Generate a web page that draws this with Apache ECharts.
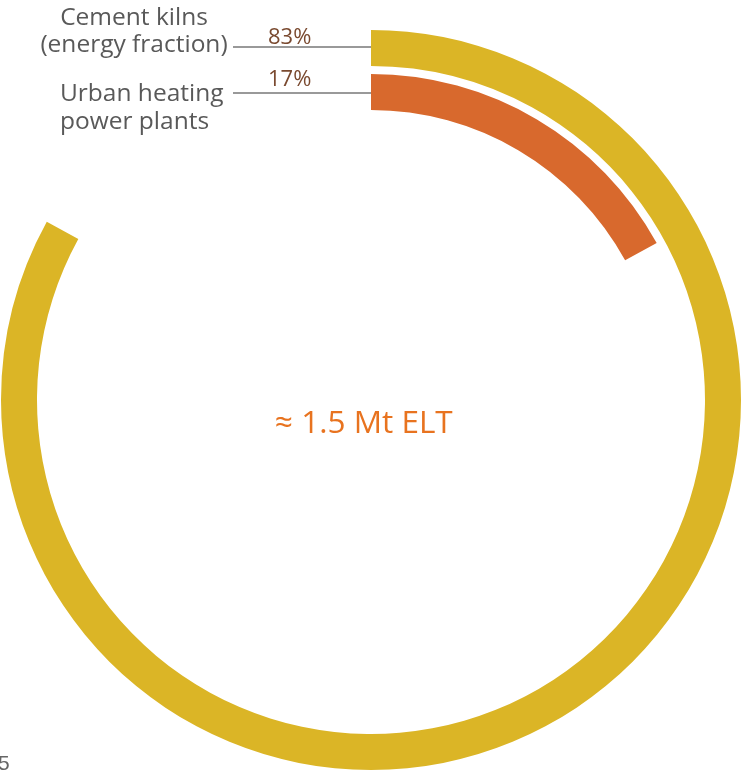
<!DOCTYPE html>
<html>
<head>
<meta charset="utf-8">
<script src="https://cdn.jsdelivr.net/npm/echarts@6/dist/echarts.min.js"></script>
<style>
  html, body { margin: 0; padding: 0; background: #fff; }
  #chart { width: 743px; height: 771px; }
</style>
</head>
<body>
<div id="chart"></div>
<script>
// inner ring first, outer ring second
const categories = ['Urban heating power plants', 'Cement kilns (energy fraction)'];
const shares = [17, 83];
const colors = ['#d8692d', '#dbb526'];
const pctLabels = ['17%', '83%'];
const centerText = '≈ 1.5 Mt ELT';

const chart = echarts.init(document.getElementById('chart'));

const labelFont = '"Open Sans", sans-serif';

chart.setOption({
  backgroundColor: '#fff',
  animation: false,
  polar: {
    center: [371, 400],
    radius: [286, 374],
  },
  angleAxis: {
    type: 'value',
    min: 0,
    max: 100,
    startAngle: 90,
    clockwise: true,
    show: false,
  },
  radiusAxis: {
    type: 'category',
    data: categories,
    show: false,
  },
  series: [
    {
      type: 'bar',
      coordinateSystem: 'polar',
      barWidth: 36,
      data: shares.map((v, i) => ({
        value: v,
        itemStyle: { color: colors[i] },
      })),
    },
  ],
  graphic: [
    // leader lines
    { type: 'line', shape: { x1: 233, y1: 47, x2: 372, y2: 47 }, style: { stroke: '#777', lineWidth: 1.5 } },
    { type: 'line', shape: { x1: 233, y1: 93, x2: 372, y2: 93 }, style: { stroke: '#777', lineWidth: 1.5 } },
    {
      type: 'text',
      style: { x: 134, y: 18, text: 'Cement kilns', font: '24.5px ' + labelFont, fill: '#595959', textAlign: 'center', textVerticalAlign: 'middle' },
    },
    {
      type: 'text',
      style: { x: 134, y: 45, text: '(energy fraction)', font: '24.5px ' + labelFont, fill: '#595959', textAlign: 'center', textVerticalAlign: 'middle' },
    },
    {
      type: 'text',
      style: { x: 60, y: 94, text: 'Urban heating', font: '24.5px ' + labelFont, fill: '#595959', textVerticalAlign: 'middle' },
    },
    {
      type: 'text',
      style: { x: 60, y: 122, text: 'power plants', font: '24.5px ' + labelFont, fill: '#595959', textVerticalAlign: 'middle' },
    },
    {
      type: 'text',
      style: { x: 268, y: 38, text: pctLabels[1], font: '22px ' + labelFont, fill: '#7a4a30', textVerticalAlign: 'middle' },
    },
    {
      type: 'text',
      style: { x: 268, y: 80, text: pctLabels[0], font: '22px ' + labelFont, fill: '#7a4a30', textVerticalAlign: 'middle' },
    },
    {
      type: 'text',
      style: { x: 275, y: 424, text: centerText, font: '31.5px "Open Sans", "Noto Sans", sans-serif', fill: '#e8731f', textVerticalAlign: 'middle' },
    },
    {
      type: 'text',
      style: { x: -2, y: 764, text: '5', font: '21px "Liberation Sans", sans-serif', fill: '#666', textVerticalAlign: 'middle' },
    },
  ],
});
</script>
</body>
</html>
